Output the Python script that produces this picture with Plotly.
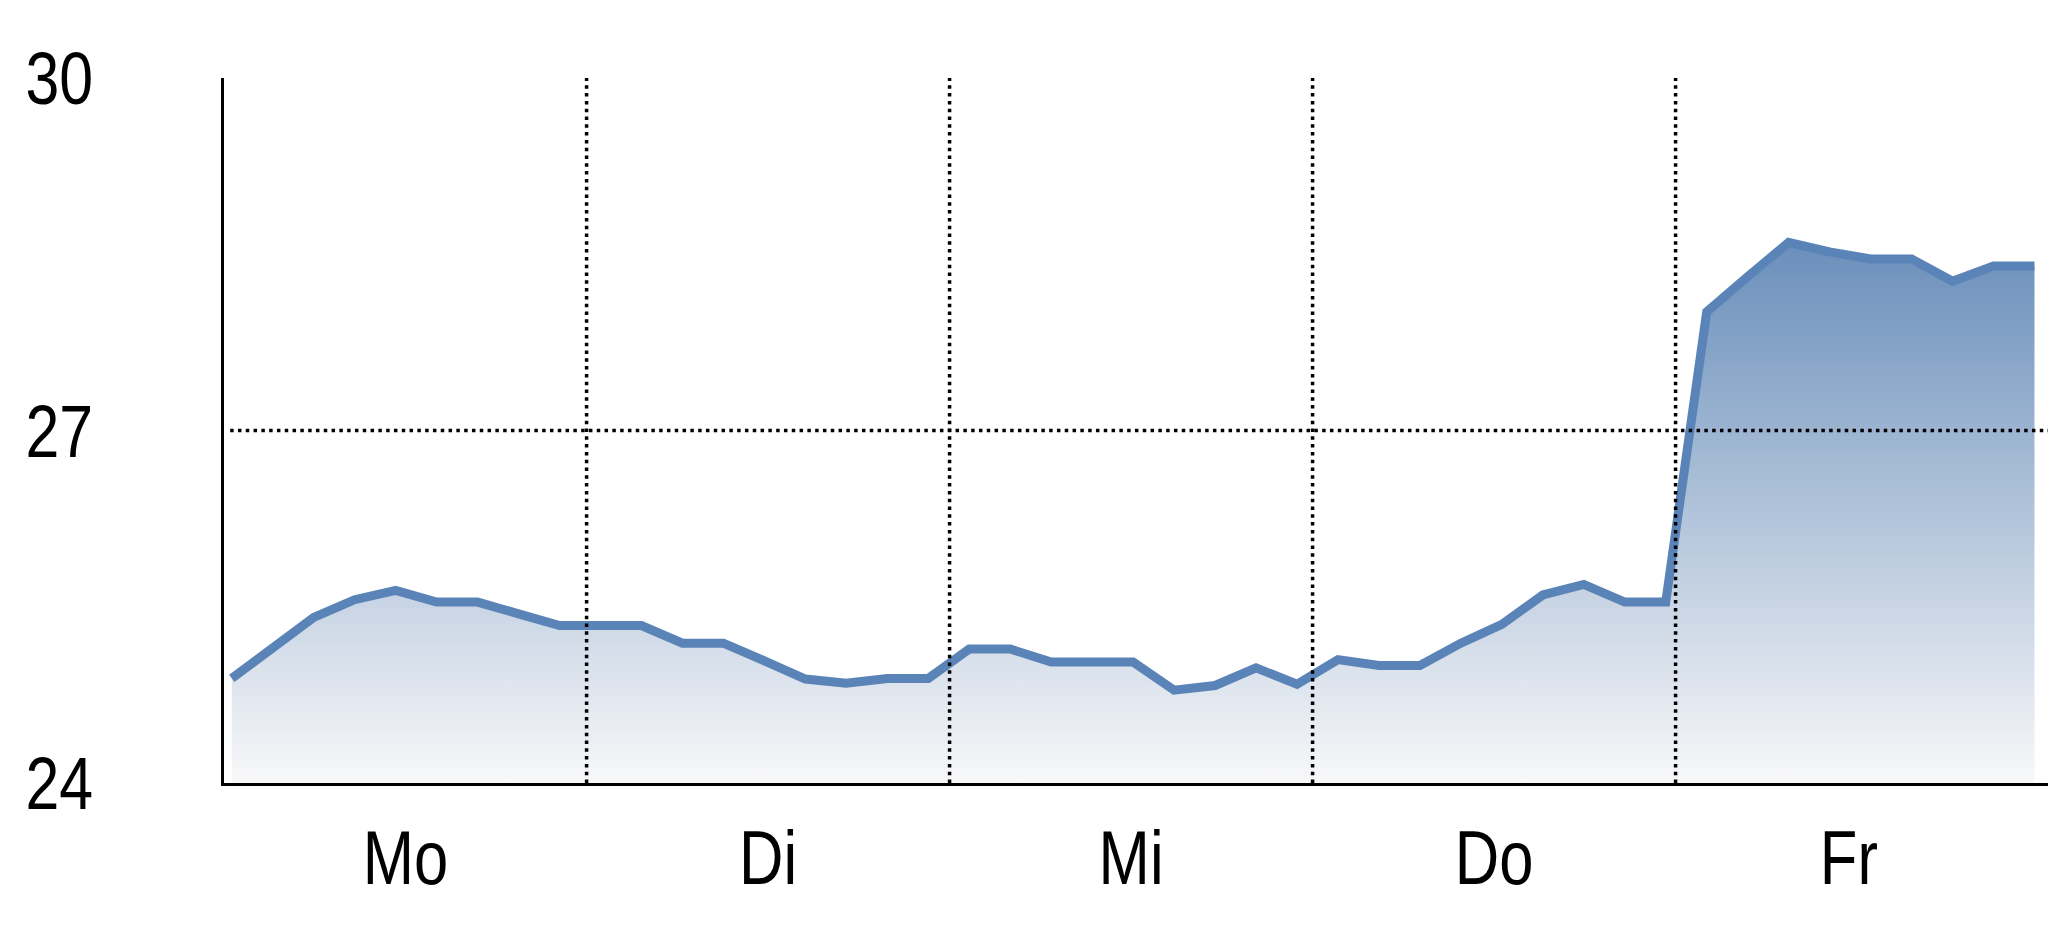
import plotly.graph_objects as go

# ---- data ----
days = ["Mo", "Di", "Mi", "Do", "Fr"]
day_bounds = [-0.19, 8.66, 17.52, 26.38, 35.24]          # start of each day (sample-index units)
day_label_pos = [4.24, 13.09, 21.95, 30.81, 39.47]       # centre of each day label
sample_idx = list(range(45))
values = [24.89, 25.15, 25.41, 25.56, 25.64, 25.54, 25.54, 25.44, 25.34,
          25.34, 25.34, 25.19, 25.19, 25.04, 24.885, 24.85, 24.89, 24.89,
          25.14, 25.14, 25.03, 25.03, 25.03, 24.79, 24.83, 24.98, 24.84,
          25.05, 25.00, 25.00, 25.19, 25.35, 25.60, 25.69, 25.54, 25.54,
          28.01, 28.31, 28.60, 28.52, 28.46, 28.46, 28.27, 28.40, 28.40]
y_ticks = [24, 27, 30]
x_range = [-0.19, 44.33]
y_range = [24, 30]

FONT = "Liberation Sans, Arial, Helvetica, sans-serif"

fig = go.Figure()
fig.add_trace(go.Scatter(
    x=sample_idx, y=values, mode="lines",
    line=dict(color="#5a84b8", width=9),
    fill="tozeroy",
    fillgradient=dict(type="vertical", start=24, stop=28.6,
                      colorscale=[[0, "#f8f8f9"], [1, "#6a8fbb"]]),
    hoverinfo="skip", showlegend=False,
))

dot = dict(color="black", width=3.5, dash="3.5px,4.3px")
shapes = []
for b in day_bounds[1:]:
    shapes.append(dict(type="line", xref="x", yref="y", x0=b, x1=b,
                       y0=y_range[0], y1=y_range[1], line=dot, layer="above"))
shapes.append(dict(type="line", xref="x", yref="y", x0=x_range[0] + 0.15, x1=x_range[1],
                   y0=y_ticks[1], y1=y_ticks[1], line=dot, layer="above"))

fig.update_layout(
    template="none",
    width=2048, height=937,
    margin=dict(l=224, r=0, t=78, b=154, pad=0),
    paper_bgcolor="white", plot_bgcolor="white",
    shapes=shapes,
    font=dict(family=FONT, color="black", size=76),
    xaxis=dict(range=x_range, tickvals=day_label_pos, ticktext=days,
               showgrid=False, zeroline=False, ticks="", automargin=False,
               showline=True, linecolor="black", linewidth=3,
               ticklabelstandoff=7, layer="above traces",
               tickfont=dict(family=FONT, size=76, color="black")),
    yaxis=dict(range=y_range, tickvals=y_ticks, ticktext=[str(v) for v in y_ticks],
               showgrid=False, zeroline=False, ticks="", automargin=False,
               showline=True, linecolor="black", linewidth=3,
               ticklabelstandoff=113, layer="above traces",
               tickfont=dict(family=FONT, size=75, color="black")),
)

post = """
document.body.style.margin='0';document.body.style.overflow='hidden';
var gd=document.getElementById('{plot_id}');
gd.querySelectorAll('.xtick text, .ytick text').forEach(function(t){
  var w=t.getComputedTextLength();
  t.setAttribute('textLength',(w*0.81).toFixed(1));
  t.setAttribute('lengthAdjust','spacingAndGlyphs');
});
"""
fig.write_html("out.html", config={"displayModeBar": False}, post_script=post)
